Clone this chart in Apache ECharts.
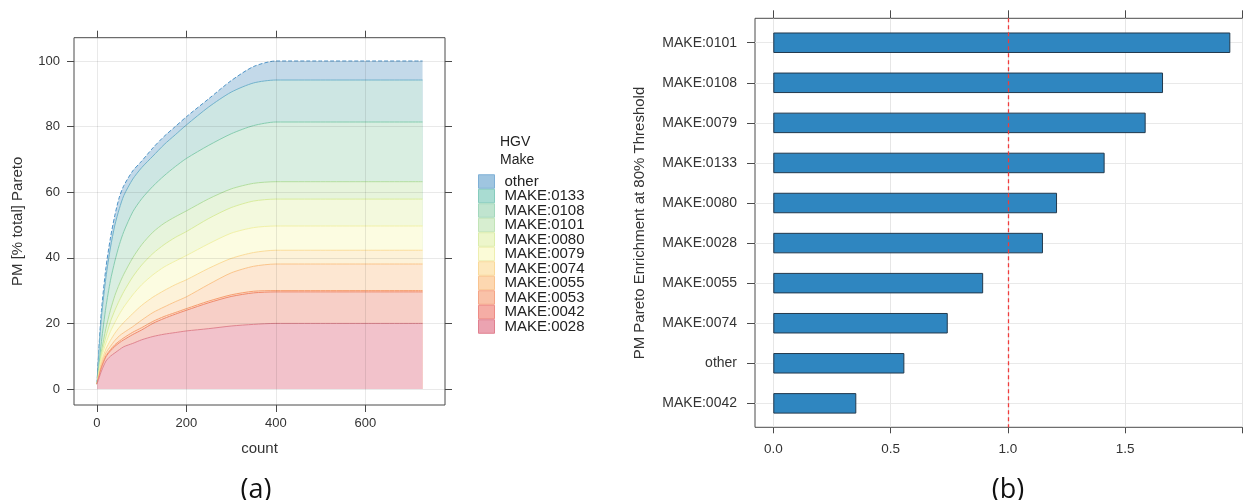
<!DOCTYPE html>
<html><head><meta charset="utf-8">
<script src="https://cdn.jsdelivr.net/npm/echarts@6/dist/echarts.min.js"></script>
<style>html,body{margin:0;padding:0;background:#fff}#c{width:1243px;height:500px}</style>
</head><body><div id="c"></div>
<script>
// ---------- Panel (a): cumulative Pareto curves ----------
const counts   = [0, 5, 10, 20, 30, 40, 50, 60, 80, 100, 125, 150, 175, 200, 250, 300, 350, 400, 500, 600, 728];
const cumOther = [1.5, 14, 24, 37, 46, 53, 58.5, 62, 66.5, 69.5, 73.5, 77, 80, 83, 88.5, 94, 98.3, 100, 100, 100, 100];
const cum0133  = [1.5, 13, 22, 34, 43, 50, 55, 59, 64, 67.5, 71, 74.5, 77.5, 80.5, 86, 90.5, 93.3, 94.2, 94.2, 94.2, 94.2];
const cum0108  = [1.5, 8, 14.5, 25, 33, 39, 44, 48, 54, 58, 61.8, 65, 67.8, 70.3, 74.3, 77.8, 80.3, 81.4, 81.4, 81.4, 81.4];
const cum0101  = [1.5, 6.5, 11.5, 18.5, 24, 28.5, 32, 35, 40, 44, 47.8, 50.5, 52.5, 54.3, 58, 61, 62.7, 63.2, 63.2, 63.2, 63.2];
const cum0080  = [1.5, 6, 10.5, 16, 20.5, 24, 27, 29.7, 34.2, 37.8, 41.3, 44, 46.2, 48, 52, 55.3, 57.3, 57.9, 57.9, 57.9, 57.9];
const cum0079  = [1.5, 5.5, 9.5, 14, 17.5, 20.3, 22.8, 25, 28.7, 31.8, 34.8, 37.2, 39, 40.7, 44.3, 47.5, 49.2, 49.7, 49.7, 49.7, 49.7];
const cum0074  = [1.5, 5, 8.3, 12.2, 14.8, 17, 18.8, 20.3, 23, 25.5, 28, 30, 31.8, 33.3, 36.8, 39.8, 41.6, 42.3, 42.3, 42.3, 42.3];
const cum0055  = [1.5, 4.5, 7.5, 11, 13, 14.8, 16.2, 17.2, 19, 21, 23.3, 25, 26.6, 28.1, 31.9, 35.4, 37.4, 38.1, 38.1, 38.1, 38.1];
const cum0053  = [1.5, 4.1, 6.7, 10.1, 12, 13.5, 14.6, 15.6, 17.3, 18.7, 20.6, 22.1, 23.3, 24.5, 26.8, 28.7, 29.8, 30, 30, 30, 30];
const cum0042  = [1.5, 4, 6.5, 9.8, 11.6, 13, 14.1, 15, 16.6, 18, 20, 21.5, 22.8, 24, 26.3, 28.2, 29.3, 29.6, 29.6, 29.6, 29.6];
const cum0028  = [1.5, 3.5, 5.5, 8.5, 10, 11, 12, 12.9, 13.9, 15, 16, 16.7, 17.2, 17.7, 18.4, 19.2, 19.7, 20, 20, 20, 20];

const makeNames = ['other', 'MAKE:0133', 'MAKE:0108', 'MAKE:0101', 'MAKE:0080', 'MAKE:0079',
                   'MAKE:0074', 'MAKE:0055', 'MAKE:0053', 'MAKE:0042', 'MAKE:0028'];
const makeCurves = [cumOther, cum0133, cum0108, cum0101, cum0080, cum0079, cum0074, cum0055, cum0053, cum0042, cum0028];
const leftXTicks = [0, 200, 400, 600];
const leftYTicks = [0, 20, 40, 60, 80, 100];

// ---------- Panel (b): enrichment bars ----------
const barCategories = ['MAKE:0101', 'MAKE:0108', 'MAKE:0079', 'MAKE:0133', 'MAKE:0080',
                       'MAKE:0028', 'MAKE:0055', 'MAKE:0074', 'other', 'MAKE:0042'];
const barValues = [1.949, 1.662, 1.588, 1.413, 1.210, 1.150, 0.895, 0.744, 0.559, 0.354];
const rightXTicks = [0, 0.5, 1, 1.5, 2];
const rightXLabels = [0, 0.5, 1, 1.5];
const thresholdValue = 1;

// ---------- styles ----------
const fillColors = ['#c3d9e9', '#cde6e3', '#d9eee1', '#e7f4dc', '#f3f9dd', '#fcfce1',
                    '#fdf2d9', '#fde7d2', '#fcdccb', '#f7cfc7', '#f2c2cb'];
const lineColors = ['#4f95c8', '#72b3cc', '#87cdb0', '#b3dea0', '#d9ec9e', '#f1f1a8',
                    '#fbdc9b', '#fbc58c', '#f7a072', '#f08a6c', '#e08590'];
const swatchColors = ['#9fc5e0', '#a9dcd2', '#c0e4cf', '#d7eed0', '#edf6cb', '#fbfbd7',
                      '#fde8bd', '#fdd7b0', '#f9c2a8', '#f5ada5', '#eba3b1'];
const swatchBorders = ['#7fb0d6', '#86cbbd', '#a3d8bd', '#c2e4b7', '#dcedaa', '#eeeeb0',
                       '#f9d99a', '#f9c38f', '#f5a486', '#ee8b86', '#e0808f'];

const FONT = 'Liberation Sans, Arial, Helvetica, sans-serif';
const AX = '#4a4a4a';
const TXT = '#333';

const chart = echarts.init(document.getElementById('c'), null, {renderer: 'canvas'});

const lineSeries = makeNames.map((name, i) => ({
  name: name,
  type: 'line',
  xAxisIndex: 0, yAxisIndex: 0,
  data: counts.map((c, j) => [c, makeCurves[i][j]]),
  showSymbol: false,
  symbol: 'none',
  silent: true,
  smooth: 0.25,
  color: swatchColors[i],
  lineStyle: {color: lineColors[i], width: 1, type: i === 0 ? [4, 2] : 'solid'},
  areaStyle: {color: fillColors[i], opacity: 1},
  z: 2 + i * 0.01
}));

const tickStyle = {show: true, inside: false, length: 7, lineStyle: {color: AX, width: 1}};
const noLine = {show: false, onZero: false};

const option = {
  animation: false,
  backgroundColor: '#fff',
  title: [
    {text: 'HGV\nMake', left: 500, top: 133, padding: 0,
     textStyle: {fontFamily: FONT, fontSize: 14, fontWeight: 'normal', color: '#222', lineHeight: 18}},
    {text: '(a)', left: 256, top: 477, textAlign: 'center', padding: 0,
     textStyle: {fontFamily: 'Open Sans, Noto Sans, sans-serif', fontSize: 27, fontWeight: 'normal', color: '#111'}},
    {text: '(b)', left: 1008, top: 477, textAlign: 'center', padding: 0,
     textStyle: {fontFamily: 'Open Sans, Noto Sans, sans-serif', fontSize: 27, fontWeight: 'normal', color: '#111'}}
  ],
  legend: {
    orient: 'vertical', left: 478, top: 174, padding: 0,
    itemWidth: 16, itemHeight: 13.5, itemGap: -0.5,
    icon: 'rect', selectedMode: false,
    textStyle: {fontFamily: FONT, fontSize: 15, color: '#222', lineHeight: 13.5, padding: [0, 0, 0, 5]},
    data: makeNames.map((n, i) => ({name: n, icon: 'rect',
      itemStyle: {color: swatchColors[i], borderColor: swatchBorders[i], borderWidth: 1}}))
  },
  grid: [
    {left: 74, top: 37.7, width: 371, height: 367.3, show: true, borderColor: AX, borderWidth: 1,
     backgroundColor: 'transparent', outerBoundsMode: 'none', containLabel: false},
    {left: 755, top: 18.3, width: 498, height: 409, show: true, borderColor: AX, borderWidth: 1,
     backgroundColor: 'transparent', outerBoundsMode: 'none', containLabel: false},
    {left: 755, top: 22.7, width: 498, height: 400.7, show: false, outerBoundsMode: 'none', containLabel: false}
  ],
  xAxis: [
    {type: 'value', gridIndex: 0, min: -51.4, max: 778.2, position: 'bottom', z: 5,
     name: 'count', nameLocation: 'middle', nameGap: 36,
     nameTextStyle: {fontFamily: FONT, fontSize: 15, color: TXT},
     axisLine: noLine,
     axisTick: Object.assign({customValues: leftXTicks}, tickStyle),
     axisLabel: {customValues: leftXTicks, margin: 12, fontFamily: FONT, fontSize: 13, color: TXT},
     splitLine: {show: true, lineStyle: {color: 'rgba(0,0,0,0.085)', width: 1}}},
    {type: 'value', gridIndex: 0, min: -51.4, max: 778.2, position: 'top', z: 5,
     axisLine: noLine,
     axisTick: Object.assign({customValues: leftXTicks}, tickStyle),
     axisLabel: {show: false}, splitLine: {show: false}},
    {type: 'value', gridIndex: 1, min: -0.078, max: 2.0457, position: 'bottom',
     axisLine: noLine,
     axisTick: Object.assign({customValues: rightXTicks}, tickStyle, {length: 6}),
     axisLabel: {customValues: rightXLabels, margin: 15, fontFamily: FONT, fontSize: 13.5, color: TXT,
                 formatter: v => v.toFixed(1)},
     splitLine: {show: true, lineStyle: {color: '#e6e6e6', width: 1}}},
    {type: 'value', gridIndex: 1, min: -0.078, max: 2.0457, position: 'top',
     axisLine: noLine,
     axisTick: Object.assign({customValues: rightXTicks}, tickStyle, {length: 8}),
     axisLabel: {show: false}, splitLine: {show: false}},
    {type: 'value', gridIndex: 2, min: -0.078, max: 2.0457, show: false, axisLine: noLine}
  ],
  yAxis: [
    {type: 'value', gridIndex: 0, min: -4.88, max: 107.1, position: 'left', z: 5,
     name: 'PM [% total] Pareto', nameLocation: 'middle', nameGap: 49,
     nameTextStyle: {fontFamily: FONT, fontSize: 15, color: TXT},
     axisLine: noLine,
     axisTick: Object.assign({customValues: leftYTicks}, tickStyle),
     axisLabel: {customValues: leftYTicks, margin: 14, fontFamily: FONT, fontSize: 13, color: TXT},
     splitLine: {show: true, lineStyle: {color: 'rgba(0,0,0,0.085)', width: 1}}},
    {type: 'value', gridIndex: 0, min: -4.88, max: 107.1, position: 'right', z: 5,
     axisLine: noLine,
     axisTick: Object.assign({customValues: leftYTicks}, tickStyle),
     axisLabel: {show: false}, splitLine: {show: false}},
    {type: 'value', gridIndex: 1, inverse: true, min: -0.609, max: 9.599,
     axisLine: noLine,
     axisTick: {show: false, customValues: [0, 1, 2, 3, 4, 5, 6, 7, 8, 9]},
     axisLabel: {show: false},
     splitLine: {show: true, lineStyle: {color: '#e9e9e9', width: 1}}},
    {type: 'category', gridIndex: 2, inverse: true, data: barCategories, position: 'left',
     name: 'PM Pareto Enrichment at 80% Threshold', nameLocation: 'middle', nameGap: 108,
     nameTextStyle: {fontFamily: FONT, fontSize: 15, color: TXT},
     axisLine: noLine,
     axisTick: {show: true, alignWithLabel: true, inside: false, length: 8, lineStyle: {color: AX, width: 1}},
     axisLabel: {margin: 18, fontFamily: FONT, fontSize: 14, color: TXT},
     splitLine: {show: false}}
  ],
  series: lineSeries.concat([
    {name: 'enrichment', type: 'bar', xAxisIndex: 4, yAxisIndex: 3,
     data: barValues, barWidth: 20.5, silent: true,
     itemStyle: {color: '#2f86c0', borderColor: '#22394d', borderWidth: 1}},
    {name: 'threshold', type: 'scatter', xAxisIndex: 2, yAxisIndex: 2, data: [], silent: true, z: 10,
     markLine: {silent: true, symbol: ['none', 'none'], label: {show: false}, animation: false,
       lineStyle: {color: '#f03c3c', type: [4, 3], width: 1.3, opacity: 1},
       emphasis: {disabled: true},
       data: [{xAxis: thresholdValue}]}}
  ])
};
chart.setOption(option);
</script>
</body></html>
